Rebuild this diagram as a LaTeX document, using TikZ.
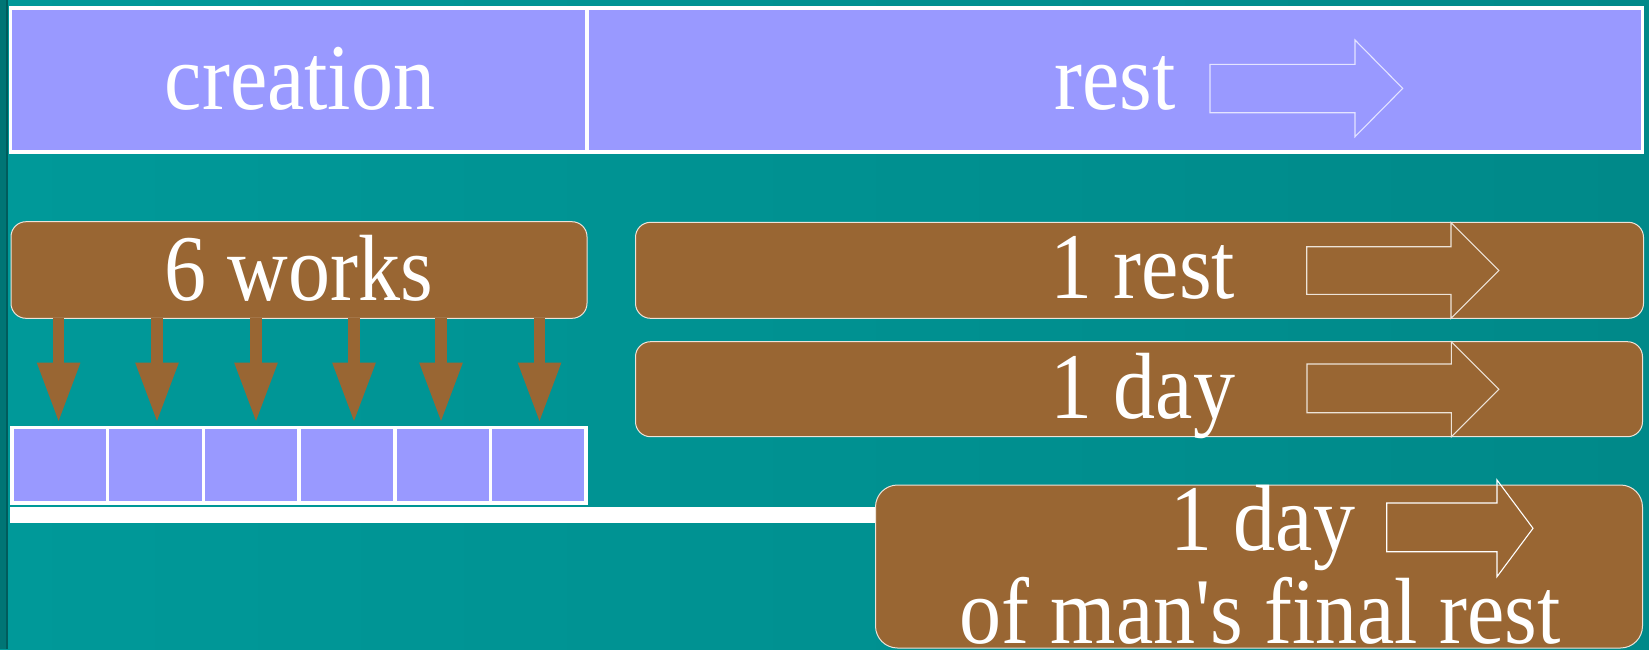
\documentclass[tikz,border=0pt]{standalone}
\usepackage{fontspec}
\setmainfont{Liberation Serif}
\usepackage{graphicx}
\usetikzlibrary{arrows.meta}
\definecolor{lav}{HTML}{9999FF}
\definecolor{brn}{HTML}{996633}
\definecolor{tealA}{HTML}{009999}
\definecolor{tealB}{HTML}{008989}
\definecolor{stripe}{HTML}{007575}
\definecolor{stripeline}{HTML}{005C5C}
\definecolor{brnline}{HTML}{EDE3D8}
\definecolor{lavline}{HTML}{E4E4FF}
\newcommand\bigtxt[1]{\scalebox{1}[1.12]{\fontsize{84}{96}\selectfont #1}}
\begin{document}
\begin{tikzpicture}[x=1pt,y=-1pt,
  lavbox/.style={rectangle, draw=white, line width=3.5pt, fill=lav, inner sep=0pt, outer sep=0pt, anchor=north west},
  brnbox/.style={rectangle, draw=brnline, line width=1pt, fill=brn, rounded corners=15pt, inner sep=0pt, outer sep=0pt, anchor=north west},
  txt/.style={text=white, inner sep=0pt, anchor=base},
  dnarrow/.style={draw=brn, line width=11.5pt, -{Triangle[width=40pt,length=60pt]}},
  blk/.style={line width=1.1pt, line join=miter}
]
\useasboundingbox (0,0) rectangle (1649,649);
% background
\shade[left color=tealA, right color=tealB] (0,0) rectangle (1649,649);
\fill[stripe] (0,0) rectangle (6,649);
\fill[stripeline] (6,0) rectangle (8,649);

% top bar
\node[lavbox, minimum width=576.5pt, minimum height=144.25pt] (creation) at (10.5,7.75) {};
\node[lavbox, minimum width=1055.6pt, minimum height=144.25pt] (restbar) at (587,7.75) {};
\node[txt] (tcreation) at (300,109) {\bigtxt{creation}};
\node[txt] (trest) at (1115,109) {\bigtxt{rest}};
\draw[blk, lavline] (1210,64.3) -- (1355,64.3) -- (1355,40) -- (1402.7,88.4) -- (1355,136.7) -- (1355,112.7) -- (1210,112.7) -- cycle;

% white timeline bar
\node[rectangle, fill=white, inner sep=0pt, outer sep=0pt, anchor=north west, minimum width=880pt, minimum height=15.4pt] (bar) at (10.3,507.3) {};

% brown boxes
\node[brnbox, minimum width=576pt, minimum height=96.6pt] (works) at (11,221.7) {};
\node[brnbox, minimum width=1008pt, minimum height=96pt] (rest1) at (635.5,222.3) {};
\node[brnbox, minimum width=1007pt, minimum height=95pt] (day1) at (635.5,341.7) {};
\node[brnbox, rounded corners=22pt, minimum width=767pt, minimum height=163pt] (final) at (875.5,485) {};

\node[txt] (tworks) at (299,300) {\bigtxt{6 works}};
\node[txt] (trest1) at (1143,298.3) {\bigtxt{1 rest}};
\node[txt] (tday1) at (1143,418) {\bigtxt{1 day}};
\node[txt] (tday2) at (1263,550) {\bigtxt{1 day}};
\node[txt] (tfinal) at (1260,643) {\bigtxt{of man\textquotesingle s final rest}};

\draw[blk, brnline] (1306.7,246.7) -- (1451,246.7) -- (1451,222.7) -- (1498.8,270.5) -- (1451,318.3) -- (1451,294.3) -- (1306.7,294.3) -- cycle;
\draw[blk, brnline] (1307,364) -- (1451.4,364) -- (1451.4,341.7) -- (1498.8,389.2) -- (1451.4,436.7) -- (1451.4,412.7) -- (1307,412.7) -- cycle;
\draw[blk, white] (1386.7,503) -- (1497,503) -- (1497,480) -- (1533,528.3) -- (1497,576.7) -- (1497,551.7) -- (1386.7,551.7) -- cycle;

% six day cells
\foreach \i in {1,...,6}{
  \node[lavbox, minimum width=95.7pt, minimum height=75.3pt] (c\i) at ({12+(\i-1)*95.7},427.7) {};
}
% arrows from works to cells (slight offsets as in the reference)
\foreach \i/\dx in {1/-1.25,2/1.45,3/4.75,4/7.05,5/-1.65,6/1.15}{
  \draw[dnarrow] ([xshift=\dx pt]works.south -| c\i.north) -- ([xshift=\dx pt,yshift=5pt]c\i.north);
}
\end{tikzpicture}
\end{document}
